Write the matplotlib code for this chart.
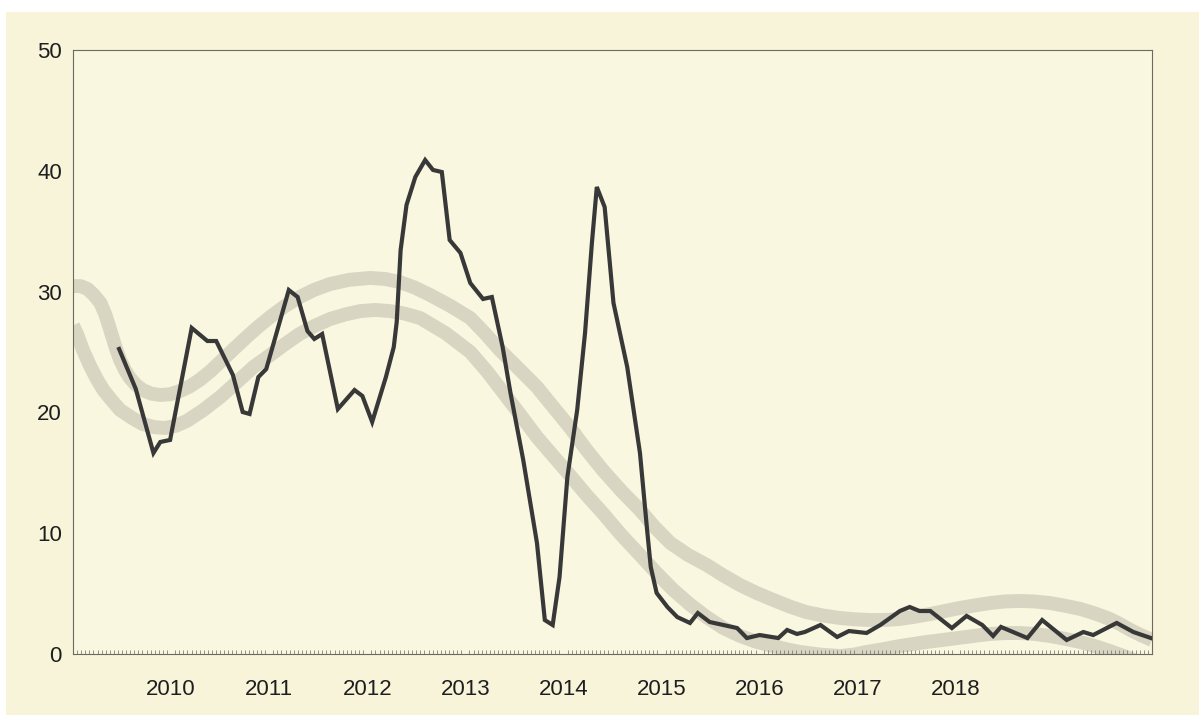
import matplotlib
matplotlib.use("Agg")
import matplotlib.pyplot as plt
from matplotlib.patches import Rectangle
from matplotlib.ticker import MultipleLocator

# price series, vertices (decimal year, value)
price_x = [2009.47, 2009.64, 2009.82, 2009.89, 2009.99, 2010.21, 2010.37, 2010.46,
           2010.63, 2010.73, 2010.80, 2010.89, 2010.97, 2011.20, 2011.29, 2011.39,
           2011.46, 2011.54, 2011.70, 2011.87, 2011.95, 2012.05, 2012.19, 2012.27,
           2012.30, 2012.34, 2012.40, 2012.49, 2012.59, 2012.67, 2012.76, 2012.84,
           2012.95, 2013.05, 2013.18, 2013.27, 2013.38, 2013.46, 2013.59, 2013.73,
           2013.81, 2013.89, 2013.96, 2014.04, 2014.14, 2014.22, 2014.29, 2014.34,
           2014.42, 2014.51, 2014.65, 2014.78, 2014.85, 2014.89, 2014.95, 2015.06,
           2015.16, 2015.29, 2015.37, 2015.49, 2015.63, 2015.77, 2015.87, 2016.00,
           2016.19, 2016.28, 2016.38, 2016.46, 2016.62, 2016.79, 2016.91, 2017.09,
           2017.23, 2017.43, 2017.53, 2017.63, 2017.74, 2017.96, 2018.11, 2018.27,
           2018.38, 2018.46, 2018.73, 2018.88, 2019.13, 2019.30, 2019.40, 2019.64,
           2019.81, 2019.99]
price_y = [25.25, 21.94, 16.64, 17.55, 17.72, 26.99, 25.91, 25.91,
           23.10, 20.03, 19.87, 22.93, 23.59, 30.13, 29.55, 26.74,
           26.08, 26.49, 20.28, 21.85, 21.36, 19.21, 22.93, 25.41,
           27.48, 33.44, 37.17, 39.49, 40.89, 40.07, 39.90, 34.27,
           33.20, 30.71, 29.39, 29.55, 25.41, 21.61, 16.06, 9.19,
           2.81, 2.40, 6.37, 14.65, 20.20, 26.57, 34.02, 38.66,
           37.00, 29.06, 23.76, 16.64, 10.51, 7.20, 5.05, 3.89,
           3.06, 2.57, 3.39, 2.65, 2.40, 2.15, 1.32, 1.57,
           1.32, 1.99, 1.66, 1.82, 2.40, 1.41, 1.90, 1.74,
           2.40, 3.56, 3.89, 3.56, 3.56, 2.15, 3.15, 2.40,
           1.49, 2.24, 1.32, 2.81, 1.16, 1.82, 1.57, 2.57,
           1.82, 1.32]

# upper trend band (centre line)
upper_x = [2009.00, 2009.08, 2009.15, 2009.21, 2009.28, 2009.33, 2009.38, 2009.43,
           2009.48, 2009.53, 2009.58, 2009.64, 2009.71, 2009.80, 2009.89, 2009.99,
           2010.09, 2010.19, 2010.29, 2010.40, 2010.50, 2010.64, 2010.77, 2010.89,
           2011.01, 2011.16, 2011.31, 2011.46, 2011.62, 2011.82, 2012.03, 2012.18,
           2012.33, 2012.48, 2012.64, 2012.84, 2013.05, 2013.20, 2013.35, 2013.54,
           2013.73, 2013.90, 2014.07, 2014.23, 2014.40, 2014.59, 2014.78, 2014.93,
           2015.09, 2015.27, 2015.46, 2015.63, 2015.80, 2015.97, 2016.14, 2016.30,
           2016.47, 2016.65, 2016.82, 2016.97, 2017.13, 2017.28, 2017.43, 2017.58,
           2017.74, 2017.89, 2018.04, 2018.20, 2018.35, 2018.50, 2018.65, 2018.80,
           2018.96, 2019.11, 2019.27, 2019.42, 2019.57, 2019.68, 2019.78, 2019.89,
           2020.00]
upper_y = [30.46, 30.45, 30.21, 29.75, 29.06, 28.10, 26.82, 25.50,
           24.34, 23.50, 22.85, 22.30, 21.85, 21.55, 21.44, 21.50,
           21.77, 22.15, 22.68, 23.40, 24.17, 25.25, 26.24, 27.10,
           27.90, 28.80, 29.55, 30.15, 30.63, 30.98, 31.13, 31.05,
           30.79, 30.35, 29.72, 28.85, 27.81, 26.55, 25.17, 23.65,
           22.10, 20.40, 18.71, 16.95, 15.23, 13.50, 11.92, 10.50,
           9.19, 8.20, 7.37, 6.50, 5.71, 5.05, 4.47, 3.95,
           3.48, 3.18, 2.98, 2.87, 2.81, 2.82, 2.90, 3.08,
           3.31, 3.56, 3.81, 4.03, 4.22, 4.35, 4.39, 4.35,
           4.22, 4.00, 3.73, 3.35, 2.90, 2.45, 1.99, 1.55,
           1.16]

# lower trend band (centre line)
lower_x = [2009.00, 2009.04, 2009.10, 2009.17, 2009.24, 2009.31, 2009.40, 2009.48,
           2009.60, 2009.71, 2009.83, 2009.94, 2010.05, 2010.16, 2010.33, 2010.50,
           2010.67, 2010.84, 2011.01, 2011.16, 2011.31, 2011.46, 2011.62, 2011.78,
           2011.93, 2012.08, 2012.23, 2012.38, 2012.54, 2012.80, 2013.05, 2013.22,
           2013.39, 2013.56, 2013.73, 2013.90, 2014.07, 2014.23, 2014.40, 2014.59,
           2014.78, 2014.95, 2015.12, 2015.29, 2015.46, 2015.63, 2015.80, 2015.97,
           2016.14, 2016.27, 2016.41, 2016.62, 2016.82, 2016.96, 2017.09, 2017.26,
           2017.43, 2017.68, 2017.94, 2018.15, 2018.35, 2018.50, 2018.65, 2018.80,
           2018.96, 2019.11, 2019.27, 2019.42, 2019.57, 2019.73, 2019.88]
lower_y = [27.20, 26.50, 25.20, 23.92, 22.80, 21.85, 20.95, 20.20,
           19.55, 19.04, 18.78, 18.71, 18.90, 19.29, 20.20, 21.27,
           22.50, 23.76, 24.75, 25.65, 26.49, 27.15, 27.73, 28.12,
           28.39, 28.48, 28.39, 28.18, 27.81, 26.55, 25.00, 23.40,
           21.60, 19.80, 17.96, 16.35, 14.75, 13.20, 11.67, 9.85,
           8.20, 6.70, 5.30, 4.10, 3.05, 2.15, 1.50, 1.00,
           0.66, 0.40, 0.17, -0.05, -0.17, -0.05, 0.17, 0.40,
           0.66, 0.97, 1.24, 1.46, 1.66, 1.73, 1.74, 1.66,
           1.49, 1.26, 0.99, 0.65, 0.25, -0.22, -0.75]

year_ticks = [2010, 2011, 2012, 2013, 2014, 2015, 2016, 2017, 2018]
value_ticks = [0, 10, 20, 30, 40, 50]

cream = "#f7f4da"
label_font = ["Liberation Sans Narrow", "Liberation Sans", "DejaVu Sans"]

fig = plt.figure(figsize=(11.99, 7.15), dpi=100, facecolor=cream)
# white paper margin of the photo (top and left)
fig.patches.append(Rectangle((0, 1 - 12 / 715), 1, 12 / 715, transform=fig.transFigure,
                             facecolor="white", edgecolor="none", zorder=0))
fig.patches.append(Rectangle((0, 0), 6 / 1199, 1, transform=fig.transFigure,
                             facecolor="white", edgecolor="none", zorder=0))

ax = fig.add_axes([73 / 1199, 1 - 654 / 715, (1152 - 73) / 1199, (654 - 50) / 715])
ax.set_facecolor("#f9f7df")

band_col = "#d8d5c2"
ax.plot(upper_x, upper_y, color=band_col, lw=10, solid_capstyle="butt",
        solid_joinstyle="round", zorder=1)
ax.plot(lower_x, lower_y, color=band_col, lw=10, solid_capstyle="butt",
        solid_joinstyle="round", zorder=1)
ax.plot(price_x, price_y, color="#383838", lw=3, solid_joinstyle="miter", zorder=3)

ax.set_xlim(2009, 2020)
ax.set_ylim(0, 50)
ax.set_xticks(year_ticks)
ax.set_xticklabels([str(y) for y in year_ticks])
ax.set_yticks(value_ticks)
ax.xaxis.set_minor_locator(MultipleLocator(1 / 24))

for s in ax.spines.values():
    s.set_color("#6a6a60")
    s.set_linewidth(0.8)

ax.tick_params(axis="both", which="major", length=0, labelsize=16,
               labelcolor="#1e1e1e")
ax.tick_params(axis="y", pad=8)
ax.tick_params(axis="x", pad=18)
ax.tick_params(axis="x", which="minor", direction="in", length=3, width=0.6,
               color="#808078")
for lab in ax.get_xticklabels() + ax.get_yticklabels():
    lab.set_family(label_font)

fig.savefig("out.png", dpi=100, facecolor=fig.get_facecolor())
